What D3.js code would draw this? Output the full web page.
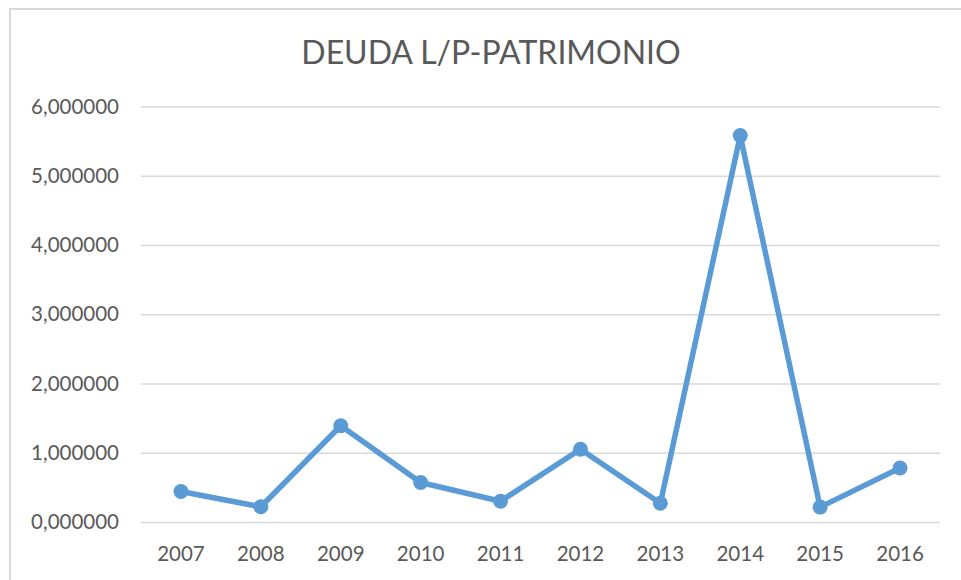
<!DOCTYPE html>
<html lang="es">
<head>
    <meta charset="UTF-8">
    <title>Deuda L/P-Patrimonio</title>
    <script src="https://d3js.org/d3.v7.min.js"></script>
</head>
<style>
    body { margin: 0; background: #fff; }
    text { font-family: Lato, "Open Sans", sans-serif; fill: #595959; }
</style>
<body>
<script>
    const years = ['2007', '2008', '2009', '2010', '2011', '2012', '2013', '2014', '2015', '2016'];
    const ratios = [0.44, 0.22, 1.39, 0.57, 0.30, 1.05, 0.27, 5.58, 0.215, 0.78];
    const yTicks = [0, 1, 2, 3, 4, 5, 6];
    const title = 'DEUDA L/P-PATRIMONIO';

    const width = 961;
    const height = 580;
    const margin = { top: 106.5, right: 21, bottom: 58, left: 141 };
    const chartWidth = width - margin.left - margin.right;
    const chartHeight = height - margin.top - margin.bottom;

    const svg = d3.select('body')
        .append('svg')
        .attr('width', width)
        .attr('height', height);

    // chart frame (only top and left edges are visible in the crop)
    svg.append('rect')
        .attr('x', 10)
        .attr('y', 9)
        .attr('width', width + 20)
        .attr('height', height + 20)
        .attr('fill', 'none')
        .attr('stroke', '#d9d9d9')
        .attr('stroke-width', 2);

    svg.append('text')
        .attr('x', 491)
        .attr('y', 64)
        .attr('text-anchor', 'middle')
        .style('font-size', '32px')
        .text(title);

    const chart = svg.append('g')
        .attr('transform', `translate(${margin.left}, ${margin.top})`);

    const xScale = d3.scaleBand()
        .domain(years)
        .range([0, chartWidth]);

    const yScale = d3.scaleLinear()
        .domain([0, 6])
        .range([chartHeight, 0]);

    const fmt = v => d3.format('.6f')(v).replace('.', ',');

    // y axis: gridlines + labels
    const yAxis = chart.append('g')
        .call(d3.axisLeft(yScale).tickValues(yTicks).tickSize(-chartWidth).tickPadding(22).tickFormat(fmt));
    yAxis.select('.domain').remove();
    yAxis.selectAll('.tick line').attr('stroke', '#d9d9d9').attr('stroke-width', 1.5);
    yAxis.selectAll('.tick text').style('font-size', '20.5px').attr('fill', '#595959');

    // x axis labels
    const xAxis = chart.append('g')
        .attr('transform', `translate(0, ${chartHeight})`)
        .call(d3.axisBottom(xScale).tickSize(0).tickPadding(24));
    xAxis.select('.domain').remove();
    xAxis.selectAll('.tick text').style('font-size', '20.5px').attr('fill', '#595959');

    const line = d3.line()
        .x((d, i) => xScale(years[i]) + xScale.bandwidth() / 2)
        .y(d => yScale(d));

    chart.append('path')
        .datum(ratios)
        .attr('fill', 'none')
        .attr('stroke', '#5b9bd5')
        .attr('stroke-width', 5.5)
        .attr('stroke-linejoin', 'round')
        .attr('d', line);

    chart.selectAll('.dot')
        .data(ratios)
        .enter()
        .append('circle')
        .attr('class', 'dot')
        .attr('cx', (d, i) => xScale(years[i]) + xScale.bandwidth() / 2)
        .attr('cy', d => yScale(d))
        .attr('r', 7.5)
        .attr('fill', '#5b9bd5');
</script>
</body>
</html>
